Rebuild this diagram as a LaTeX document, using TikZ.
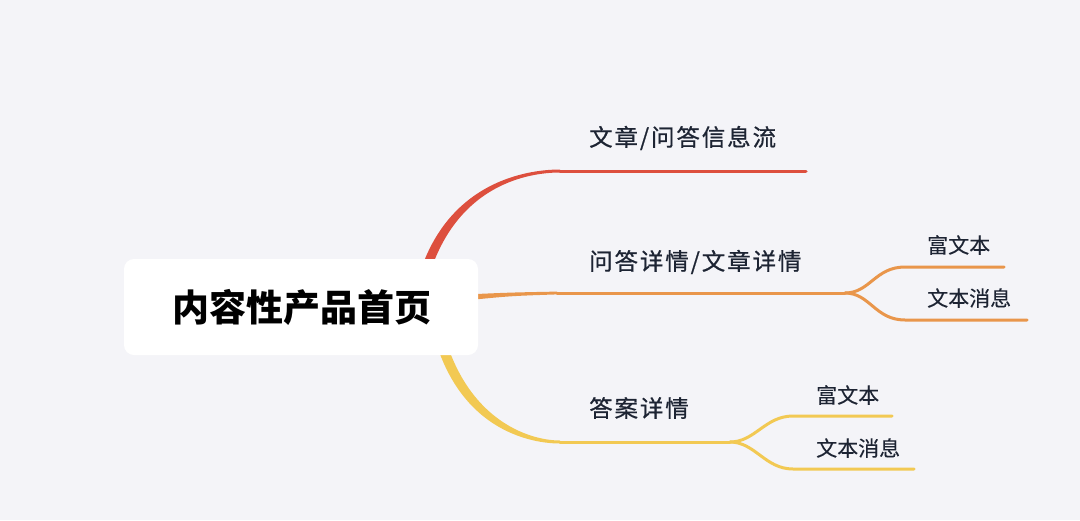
\documentclass[tikz,border=0pt]{standalone}
\usepackage{fontspec}
\setmainfont{Noto Sans CJK SC}
\newfontfamily\labfontfam[LetterSpace=8,FakeBold=0.7]{Noto Sans CJK SC}
\newfontfamily\subfontfam[FakeBold=0.2]{Noto Sans CJK SC}
\definecolor{bg}{HTML}{F4F4F8}
\definecolor{txt}{HTML}{1D2433}
\definecolor{cred}{HTML}{DD4F3E}
\definecolor{corange}{HTML}{E9964B}
\definecolor{cyellow}{HTML}{F2C953}
\tikzset{
  rootbox/.style={fill=white, rounded corners=10pt, draw=none},
  rootlbl/.style={inner sep=0pt, text=black, font=\fontsize{37}{41}\selectfont\bfseries},
  mainlbl/.style={anchor=west, inner sep=0pt, text=txt, font=\labfontfam\fontsize{23.5}{28}\selectfont},
  sublbl/.style={anchor=west, inner sep=0pt, text=txt, font=\subfontfam\fontsize{21}{25}\selectfont},
  conn/.style={line width=3pt, line cap=round},
}
\begin{document}
\begin{tikzpicture}[x=1pt,y=-1pt]
\useasboundingbox (0,0) rectangle (1080,520);
\fill[bg] (0,0) rectangle (1080,520);

% coordinates
\coordinate (r1) at (560,171);
\coordinate (r1e) at (806,171);
\coordinate (o1) at (557,293);
\coordinate (os) at (845,293);
\coordinate (o1a) at (905,267);
\coordinate (o1ae) at (1004,267);
\coordinate (o1b) at (905,320);
\coordinate (o1be) at (1027,320);
\coordinate (y1) at (560,442);
\coordinate (ys) at (730,442);
\coordinate (y1a) at (793,416);
\coordinate (y1ae) at (892,416);
\coordinate (y1b) at (793,469);
\coordinate (y1be) at (914,469);

% red branch (tapered)
\fill[cred] (413,300) .. controls (435,183) and (525,169.5) .. (560,169.5)
  -- (560,172.5) .. controls (525,172.5) and (445,187) .. (423,300) -- cycle;
\draw[conn, cred] (r1) -- (r1e);

% orange branch (tapered)
\fill[corange] (465,294.5) .. controls (510,292.5) .. (557,291.6)
  -- (557,294.4) .. controls (510,296) .. (465,300.5) -- cycle;
\draw[conn, corange] (o1) -- (os);
\draw[conn, corange] (os) .. controls (870,293) and (875,267) .. (o1a) -- (o1ae);
\draw[conn, corange] (os) .. controls (870,293) and (875,320) .. (o1b) -- (o1be);

% yellow branch (tapered)
\fill[cyellow] (427,300) .. controls (443,425) and (525,443.5) .. (560,443.5)
  -- (560,440.5) .. controls (525,440.5) and (453,415) .. (437,300) -- cycle;
\draw[conn, cyellow] (y1) -- (ys);
\draw[conn, cyellow] (ys) .. controls (755,442) and (765,416) .. (y1a) -- (y1ae);
\draw[conn, cyellow] (ys) .. controls (755,442) and (765,469) .. (y1b) -- (y1be);

% root
\fill[rootbox] (124,259) rectangle (478,355);
\node[rootlbl] (root) at (302,307) {内容性产品首页};

% labels
\node[mainlbl] (l1) at (589,138) {文章/问答信息流};
\node[mainlbl] (l2) at (589,262) {问答详情/文章详情};
\node[mainlbl] (l3) at (589,408) {答案详情};
\node[sublbl] (l2a) at (927,245) {富文本};
\node[sublbl] (l2b) at (927,298) {文本消息};
\node[sublbl] (l3a) at (816,395) {富文本};
\node[sublbl] (l3b) at (816,448) {文本消息};
\end{tikzpicture}
\end{document}
